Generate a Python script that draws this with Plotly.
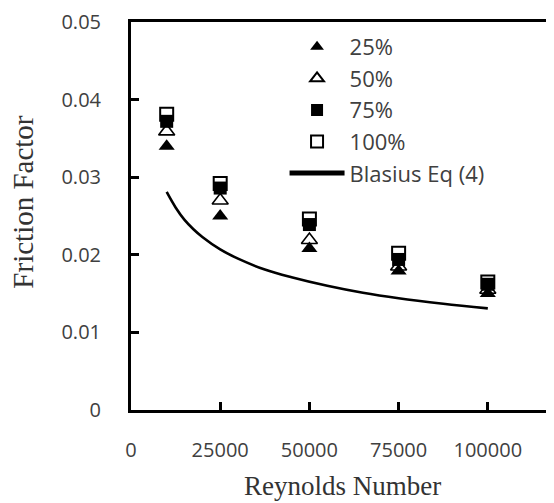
import plotly.graph_objects as go

# Data
reynolds = [10000, 25000, 50000, 75000, 100000]
f_25 = [0.0340, 0.0250, 0.0208, 0.0179, 0.0150]
f_50 = [0.0359, 0.0270, 0.0219, 0.0185, 0.0155]
f_75 = [0.0372, 0.0286, 0.0239, 0.0194, 0.0162]
f_100 = [0.0381, 0.0292, 0.0246, 0.0202, 0.0165]

blasius_re = [10000, 12500, 15000, 17500, 20000, 25000, 30000, 37500, 45000,
              55000, 65000, 75000, 87500, 100000]
blasius_f = [0.0281, 0.0261, 0.0245, 0.0233, 0.0223, 0.0207, 0.0195, 0.0181,
             0.0171, 0.0160, 0.0151, 0.0144, 0.0137, 0.0131]

x_ticks = [0, 25000, 50000, 75000, 100000]
y_ticks = [0, 0.01, 0.02, 0.03, 0.04, 0.05]

# the page body adds an 8px offset, so the figure is 8px smaller than the window
W, H = 546, 495
L, R, T, B = 123, 0, 11, 93

TICK_FONT = dict(family="Open Sans", size=20, color="#404040")
TITLE_FONT = dict(family="Liberation Serif", color="#333333")

fig = go.Figure()

fig.add_trace(go.Scatter(x=reynolds, y=f_25, mode="markers", name="25%",
                         marker=dict(symbol="triangle-up", size=14, color="black",
                                     line=dict(width=0))))
fig.add_trace(go.Scatter(x=reynolds, y=f_50, mode="markers", name="50%",
                         marker=dict(symbol="triangle-up-open", size=14, color="black",
                                     line=dict(width=1.6, color="black"))))
fig.add_trace(go.Scatter(x=reynolds, y=f_75, mode="markers", name="75%",
                         marker=dict(symbol="square", size=13, color="black",
                                     line=dict(width=0))))
fig.add_trace(go.Scatter(x=reynolds, y=f_100, mode="markers", name="100%",
                         marker=dict(symbol="square-open", size=13, color="black",
                                     line=dict(width=2, color="black"))))
fig.add_trace(go.Scatter(x=blasius_re, y=blasius_f, mode="lines", name="Blasius Eq (4)",
                         line=dict(color="black", width=2.6, shape="spline")))

fig.update_layout(
    width=W, height=H,
    margin=dict(l=L, r=R, t=T, b=B),
    paper_bgcolor="white", plot_bgcolor="white",
    showlegend=True,
    legend=dict(x=0.363, y=0.99, xanchor="left", yanchor="top",
                bgcolor="rgba(0,0,0,0)", borderwidth=0,
                font=dict(family="Open Sans", size=22, color="#404040"),
                itemwidth=55, itemsizing="constant",
                tracegroupgap=0),
    xaxis=dict(range=[0, 118550], tickvals=x_ticks,
               ticktext=[str(v) for v in x_ticks],
               showgrid=False, zeroline=False,
               showline=True, linecolor="black", linewidth=3, mirror=True,
               ticks="inside", ticklen=8, tickwidth=2.5, tickcolor="black",
               tickfont=TICK_FONT, ticklabelstandoff=20,
               ticklabeloverflow="allow"),
    yaxis=dict(range=[0, 0.05], tickvals=y_ticks,
               ticktext=["0", "0.01", "0.02", "0.03", "0.04", "0.05"],
               showgrid=False, zeroline=False,
               showline=True, linecolor="black", linewidth=3, mirror=False,
               ticks="inside", ticklen=8, tickwidth=2.5, tickcolor="black",
               tickfont=TICK_FONT, ticklabelstandoff=23,
               ticklabeloverflow="allow"),
    annotations=[
        dict(text="Reynolds Number", xref="paper", yref="paper", x=0.5, y=-0.197,
             xanchor="center", yanchor="middle", showarrow=False,
             font=dict(size=27, **TITLE_FONT)),
        dict(text="Friction Factor", xref="paper", yref="paper", x=0, y=0.537,
             xshift=-108, xanchor="center", yanchor="middle", textangle=-90,
             showarrow=False, font=dict(size=29, **TITLE_FONT)),
    ],
)

fig.write_html("out.html")
